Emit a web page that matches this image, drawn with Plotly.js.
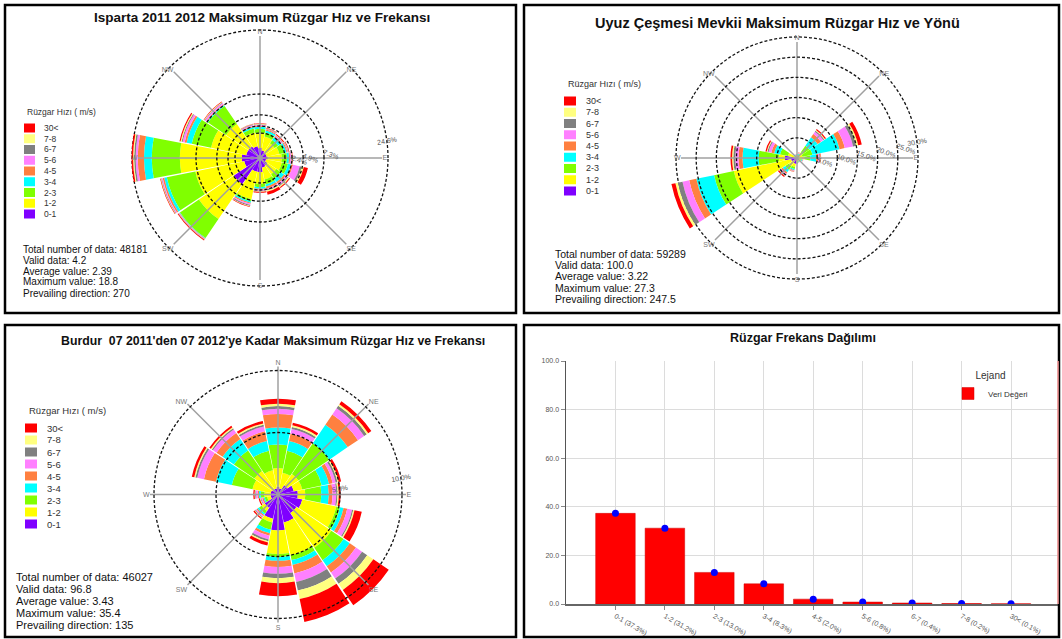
<!DOCTYPE html>
<html><head><meta charset="utf-8">
<script src="https://cdn.plot.ly/plotly-3.0.1.min.js"></script>
<style>html,body{margin:0;padding:0;background:#fff}#chart{width:1062px;height:639px}</style>
</head><body><div id="chart"></div>
<script>
const W = 1062, H = 639;

// ---- shared wind-rose categories ----
const directions = [0, 22.5, 45, 67.5, 90, 112.5, 135, 157.5, 180, 202.5, 225, 247.5, 270, 292.5, 315, 337.5];
const compassTicks = [0, 45, 90, 135, 180, 225, 270, 315];
const compassLabels = ['N', 'NE', 'E', 'SE', 'S', 'SW', 'W', 'NW'];
const speedLabels = ['0-1', '1-2', '2-3', '3-4', '4-5', '5-6', '6-7', '7-8', '30<'];
const speedColors = ['#7F00FF', '#FFFF00', '#80FF00', '#00FFFF', '#FF8040', '#FF80FF', '#808080', '#FFFF80', '#FF0000'];
const legendTitle = 'Rüzgar Hızı ( m/s)';

// ---- Isparta: frequency (%) per speed class, directions N..NNW ----
const isparta = [
  [1.9, 1.5, 1.3, 1.3, 1.5, 1.2, 1.7, 1.9, 2.7, 2.7, 6.1, 3.1, 3.5, 2.7, 2.7, 2.3],
  [2.9, 2.7, 2.1, 2.5, 2.7, 3.1, 2.1, 2.3, 2.3, 5.4, 8.1, 9.6, 11.9, 6.9, 5.2, 2.7],
  [0.8, 0.8, 0.8, 1.0, 1.0, 1.2, 1.0, 1.0, 0.6, 0.4, 4.4, 5.6, 5.4, 3.8, 4.2, 0.8],
  [0.4, 0.4, 0.6, 0.4, 0.4, 0.6, 0.8, 0.4, 0.3, 0.3, 0.1, 0.5, 1.5, 1.0, 0.2, 0.3],
  [0.2, 0.2, 0.2, 0.2, 0.2, 0.4, 0.4, 0.4, 0.2, 0.2, 0.1, 0.3, 1.2, 0.4, 0.2, 0.2],
  [0.2, 0.1, 0.2, 0.1, 0.2, 1.3, 0.4, 0.2, 0.2, 0.2, 0.1, 0.2, 0.4, 0.4, 0.3, 0.2],
  [0.1, 0.1, 0.1, 0.1, 0.1, 0.4, 0.2, 0.2, 0.1, 0.2, 0.05, 0.1, 0.3, 0.2, 0.1, 0.1],
  [0.1, 0.06, 0.1, 0.06, 0.1, 0.4, 0.2, 0.2, 0.1, 0.1, 0.05, 0.1, 0.2, 0.2, 0.1, 0.06],
  [0.1, 0.06, 0.2, 0.13, 0.1, 0.8, 0.2, 0.6, 0.2, 0.1, 0.15, 0.1, 0.3, 0.2, 0.1, 0.06]
];
const ispartaRingVals = [4.8, 6.15, 8.3, 12.3];
const ispartaRingText = ['', '2.4%', '4.9%', '7.3%'];
const ispartaOuterVal = [24.6];
const ispartaOuterText = ['24.6%'];
const ispartaStats = ['Total number of data: 48181', 'Valid data: 4.2', 'Average value: 2.39', 'Maximum value: 18.8', 'Prevailing direction: 270'];
const ispartaTitle = 'Isparta 2011 2012 Maksimum Rüzgar Hız ve Frekansı';

// ---- Uyuz Çeşmesi ----
const uyuz = [
  [0.2, 0.2, 0.2, 0.2, 0.3, 0.3, 0.3, 0.4, 0.6, 1.5, 1.0, 1.5, 3.0, 0.3, 0.2, 0.2],
  [0.3, 0.4, 1.5, 1.2, 1.5, 0.6, 0.4, 0.4, 0.4, 0.8, 1.5, 14.5, 1.5, 2.0, 0.3, 0.3],
  [0.2, 0.3, 2.0, 2.5, 1.5, 0.3, 0.2, 0.2, 0.2, 0.5, 1.0, 5.0, 5.0, 2.0, 0.2, 0.2],
  [0.1, 0.2, 2.5, 6.9, 1.5, 0.2, 0.1, 0.1, 0.1, 0.3, 0.8, 4.5, 4.0, 1.5, 0.1, 0.1],
  [0.05, 0.1, 1.0, 1.3, 0.5, 0.1, 0.05, 0.05, 0.05, 0.15, 0.4, 1.8, 1.0, 0.7, 0.05, 0.05],
  [0.05, 0.1, 0.7, 2.1, 0.3, 0.05, 0.03, 0.03, 0.03, 0.1, 0.4, 1.7, 0.8, 0.7, 0.05, 0.05],
  [0.02, 0.05, 0.3, 0.8, 0.2, 0.03, 0.02, 0.02, 0.02, 0.05, 0.2, 1.2, 0.5, 0.3, 0.02, 0.02],
  [0.02, 0.03, 0.2, 0.5, 0.1, 0.02, 0.01, 0.01, 0.01, 0.05, 0.1, 0.6, 0.3, 0.2, 0.01, 0.01],
  [0.02, 0.05, 0.3, 0.9, 0.1, 0.02, 0.01, 0.01, 0.01, 0.1, 0.3, 1.0, 0.4, 0.3, 0.01, 0.01]
];
const uyuzRingVals = [5, 10, 15, 20, 25];
const uyuzRingText = ['5.0%', '10.0%', '15.0%', '20.0%', '25.0%'];
const uyuzOuterVal = [30];
const uyuzOuterText = ['30.0%'];
const uyuzStats = ['Total number of data: 59289', 'Valid data: 100.0', 'Average value: 3.22', 'Maximum value: 27.3', 'Prevailing direction: 247.5'];
const uyuzTitle = 'Uyuz Çeşmesi Mevkii Maksimum Rüzgar Hız ve Yönü';

// ---- Burdur ----
const burdur = [
  [0.63, 0.5, 0.9, 1.3, 1.6, 2.0, 1.8, 2.3, 2.9, 2.0, 1.3, 0.6, 0.6, 0.6, 0.5, 0.5],
  [1.5, 1.3, 1.1, 0.7, 0.6, 2.8, 3.4, 2.7, 1.9, 0.3, 0.3, 0.3, 0.5, 1.5, 1.8, 1.5],
  [1.91, 1.8, 3.0, 1.6, 1.3, 0.3, 1.2, 0.4, 0.25, 0.6, 0.25, 0.2, 0.3, 1.7, 2.0, 1.6],
  [1.37, 0.8, 1.8, 0.6, 0.6, 0.3, 0.6, 0.4, 0.3, 0.3, 0.15, 0.1, 0.15, 1.3, 1.1, 0.8],
  [1.09, 0.6, 1.0, 0.3, 0.3, 0.3, 0.6, 0.7, 0.5, 0.2, 0.1, 0.1, 0.1, 1.0, 0.6, 0.8],
  [0.41, 0.4, 0.6, 0.25, 0.3, 0.4, 0.6, 0.7, 0.55, 0.3, 0.1, 0.1, 0.15, 0.55, 0.35, 0.4],
  [0.22, 0.15, 0.25, 0.15, 0.1, 0.1, 0.5, 0.7, 0.35, 0.15, 0.05, 0.05, 0.05, 0.15, 0.1, 0.15],
  [0.19, 0.15, 0.15, 0.1, 0.1, 0.1, 0.6, 0.7, 0.4, 0.1, 0.05, 0.05, 0.05, 0.1, 0.1, 0.1],
  [0.41, 0.2, 0.3, 0.2, 0.15, 0.6, 1.5, 1.9, 1.05, 0.25, 0.1, 0.1, 0.1, 0.2, 0.15, 0.2]
];
const burdurRingVals = [5, 10];
const burdurRingText = ['5.0%', '10.0%'];
const burdurStats = ['Total number of data: 46027', 'Valid data: 96.8', 'Average value: 3.43', 'Maximum value: 35.4', 'Prevailing direction: 135'];
const burdurTitle = "Burdur  07 2011'den 07 2012'ye Kadar Maksimum Rüzgar Hız ve Frekansı";

// ---- frequency distribution bar chart ----
const freqCategories = ['0-1 (37.3%)', '1-2 (31.2%)', '2-3 (13.0%)', '3-4 (8.3%)', '4-5 (2.0%)', '5-6 (0.8%)', '6-7 (0.4%)', '7-8 (0.2%)', '30< (0.1%)'];
const freqValues = [37.3, 31.2, 13.0, 8.3, 2.0, 0.8, 0.4, 0.2, 0.1];
const freqTitle = 'Rüzgar Frekans Dağılımı';
const freqSeriesName = 'Veri Değeri';
const freqLegendTitle = 'Lejand';

// ---------------------------------------------------------------
const FONT = 'Liberation Sans, Arial, sans-serif';
const px = x => x / W;
const py = y => 1 - y / H;
function dom(cx, cy, r) { return { x: [px(cx - r), px(cx + r)], y: [py(cy + r), py(cy - r)] }; }

const data = [];
function addRose(rows, sub) {
  rows.forEach((vals, k) => {
    data.push({
      type: 'barpolar', subplot: sub, r: vals, theta: directions,
      name: speedLabels[k], showlegend: false,
      marker: { color: speedColors[k], line: { width: 0 } },
      hovertemplate: '%{theta}°: %{r}%<extra>' + speedLabels[k] + '</extra>'
    });
  });
}
function addOverlayAnchor(sub) {
  data.push({ type: 'scatterpolar', subplot: sub, r: [0], theta: [0], mode: 'markers',
    marker: { size: 1, opacity: 0 }, showlegend: false, hoverinfo: 'skip' });
}
addRose(isparta, 'polar');
addRose(uyuz, 'polar2');
addRose(burdur, 'polar3');
addOverlayAnchor('polar4');
addOverlayAnchor('polar5');
addOverlayAnchor('polar6');

data.push({ type: 'bar', x: freqCategories, y: freqValues, name: freqSeriesName, width: 0.8,
  marker: { color: '#FF0000', line: { color: '#d00000', width: 0.5 } }, xaxis: 'x', yaxis: 'y', showlegend: true });
data.push({ type: 'scatter', mode: 'markers', x: freqCategories, y: freqValues, xaxis: 'x', yaxis: 'y',
  marker: { color: '#0000FF', size: 7 }, showlegend: false, hoverinfo: 'skip' });

const ringStyle = { griddash: '3px,2px', gridcolor: '#111', gridwidth: 1.3, showline: false, ticks: '',
  angle: 10, tickfont: { size: 7, color: '#555', family: FONT } };

function basePolar(d, maxR, outerVals, outerText) {
  const has = outerVals.length > 0;
  return {
    domain: d, bgcolor: 'rgba(0,0,0,0)', bargap: 0.04,
    radialaxis: Object.assign({}, ringStyle, { range: [0, maxR], tickmode: 'array', tickvals: outerVals, ticktext: outerText,
      showgrid: has, showticklabels: has }),
    angularaxis: { direction: 'clockwise', rotation: 90, showgrid: false, showline: false, showticklabels: false, ticks: '' }
  };
}
function overlayPolar(d, maxR, vals, text) {
  return {
    domain: d, bgcolor: 'rgba(0,0,0,0)',
    radialaxis: Object.assign({}, ringStyle, { range: [0, maxR], tickmode: 'array', tickvals: vals, ticktext: text, showgrid: true }),
    angularaxis: { direction: 'clockwise', rotation: 90, tickmode: 'array', tickvals: compassTicks, ticktext: compassLabels,
      showgrid: true, gridcolor: '#a0a0a0', gridwidth: 1.5, showline: false, ticks: '',
      tickfont: { size: 7, color: '#777', family: FONT } }
  };
}

const annotations = [];
const shapes = [];

function title(text, cx, cy, size) {
  annotations.push({ text: '<b>' + text + '</b>', xref: 'paper', yref: 'paper', x: px(cx), y: py(cy),
    xanchor: 'center', yanchor: 'middle', showarrow: false, font: { family: FONT, size: size, color: '#111' } });
}
function stats(lines, x, y0, step, size) {
  lines.forEach((t, i) => annotations.push({ text: t, xref: 'paper', yref: 'paper', x: px(x), y: py(y0 + i * step),
    xanchor: 'left', yanchor: 'middle', showarrow: false, font: { family: FONT, size: size, color: '#111' } }));
}
function speedLegend(tx, ty, sx0, sx1, y0, step, lx, size) {
  annotations.push({ text: legendTitle, xref: 'paper', yref: 'paper', x: px(tx), y: py(ty), xanchor: 'left', yanchor: 'middle',
    showarrow: false, font: { family: FONT, size: size, color: '#333' } });
  for (let i = 0; i < speedLabels.length; i++) {
    const k = speedLabels.length - 1 - i;  // 30< on top
    const yc = y0 + i * step;
    shapes.push({ type: 'rect', xref: 'paper', yref: 'paper', x0: px(sx0), x1: px(sx1), y0: py(yc + 4.5), y1: py(yc - 4.5),
      fillcolor: speedColors[k], line: { width: 0 } });
    annotations.push({ text: speedLabels[k], xref: 'paper', yref: 'paper', x: px(lx), y: py(yc), xanchor: 'left', yanchor: 'middle',
      showarrow: false, font: { family: FONT, size: size, color: '#333' } });
  }
}
function border(x0, y0, x1, y1) {
  shapes.push({ type: 'rect', xref: 'paper', yref: 'paper', x0: px(x0), x1: px(x1), y0: py(y1), y1: py(y0),
    line: { color: '#000', width: 2.5 }, fillcolor: 'rgba(0,0,0,0)', layer: 'above' });
}

// panel 1
title(ispartaTitle, 262, 18, 13.5);
stats(ispartaStats, 21, 249, 11, 10);
speedLegend(25, 112, 24, 35, 128, 10.75, 42, 8.5);
// panel 2
title(uyuzTitle, 777, 23, 14.5);
stats(uyuzStats, 553, 253.5, 11.4, 10.5);
speedLegend(566, 84, 564, 576, 101, 11.25, 584, 9);
// panel 3
title(burdurTitle, 273, 341, 12.3);
stats(burdurStats, 14, 577, 12, 11);
speedLegend(27, 410, 25, 37, 428, 12, 45, 9.5);
// panel 4
title(freqTitle, 803, 338, 12.5);

border(5, 5, 516, 313);
border(524, 5, 1059, 313);
border(5, 325, 516, 637);
border(524, 325, 1059, 637);
shapes.push({ type: 'line', xref: 'x domain', yref: 'y domain', x0: 1, x1: 1, y0: 0, y1: 1, line: { color: '#ff9c9c', width: 1.5 } });

// ring radius in px per unit: Isparta 128px = 24.6, Uyuz 121px = 30, Burdur 124px = 10
const layout = {
  width: W, height: H, margin: { l: 0, r: 0, t: 0, b: 0 }, paper_bgcolor: '#fff', plot_bgcolor: '#fff',
  font: { family: FONT }, hovermode: false, showlegend: true,
  polar: basePolar(dom(260, 158, 24.8 * 128 / 24.6), 24.8, ispartaOuterVal, ispartaOuterText),
  polar2: basePolar(dom(797, 158, 32 * 121 / 30), 32, uyuzOuterVal, uyuzOuterText),
  polar3: basePolar(dom(278, 494.5, 11.2 * 124 / 10), 11.2, [], []),
  polar4: overlayPolar(dom(260, 158, 122), 24.6 * 122 / 128, ispartaRingVals, ispartaRingText),
  polar5: overlayPolar(dom(797, 158, 116), 30 * 116 / 121, uyuzRingVals, uyuzRingText),
  polar6: overlayPolar(dom(278, 494.5, 128), 10 * 128 / 124, burdurRingVals, burdurRingText),
  xaxis: { domain: [px(566), px(1058)], anchor: 'y', type: 'category', range: [-1, 8.95],
    showgrid: true, gridcolor: '#dcdcdc', showline: true, linecolor: '#666', linewidth: 1.5,
    ticks: 'outside', ticklen: 4, tickcolor: '#888', tickangle: 30, tickfont: { size: 7, color: '#555' } },
  yaxis: { domain: [py(604), py(361)], anchor: 'x', range: [0, 100], dtick: 20, tickformat: '.1f',
    showgrid: true, gridcolor: '#dcdcdc', zeroline: false, showline: true, linecolor: '#555', linewidth: 1.5,
    ticks: 'outside', ticklen: 4, tickcolor: '#888', tickfont: { size: 7, color: '#555' } },
  legend: { x: px(948), y: py(366), xanchor: 'left', yanchor: 'top', bgcolor: 'rgba(0,0,0,0)',
    title: { text: freqLegendTitle, side: 'top center', font: { size: 10, color: '#333' } },
    font: { size: 8, color: '#333' } },
  annotations: annotations, shapes: shapes
};

Plotly.newPlot('chart', data, layout, { staticPlot: true, displayModeBar: false });
</script>
</body></html>
